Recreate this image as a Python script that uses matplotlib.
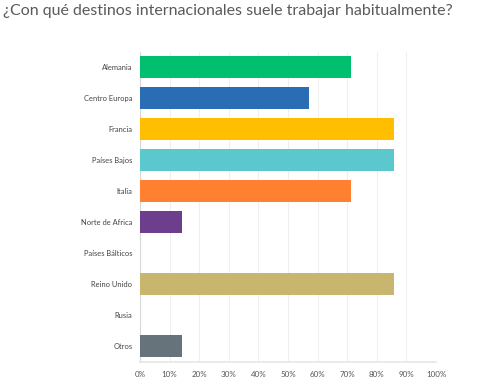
import matplotlib
matplotlib.use("Agg")
import matplotlib.pyplot as plt

categories = ["Alemania", "Centro Europa", "Francia", "Países Bajos", "Italia",
              "Norte de Africa", "Países Bálticos", "Reino Unido", "Rusia", "Otros"]
values = [71.43, 57.14, 85.71, 85.71, 71.43, 14.29, 0, 85.71, 0, 14.29]
colors = ["#00BF6F", "#2A6DB5", "#FFBE00", "#5BC8CE", "#FF8030",
          "#6E3E8E", "#FFFFFF", "#C8B66E", "#FFFFFF", "#66737A"]
xticks = list(range(0, 101, 10))
xticklabels = [f"{t}%" for t in xticks]
title = "¿Con qué destinos internacionales suele trabajar habitualmente?"

plt.rcParams['font.family'] = ['Lato', 'DejaVu Sans']

fig = plt.figure(figsize=(4.8, 3.9), dpi=100)
W, H = 480, 390
left, right, top, bottom = 140, 436, 51.5, 361.5
ax = fig.add_axes([left / W, 1 - bottom / H, (right - left) / W, (bottom - top) / H])

ypos = list(range(len(categories)))
ax.barh(ypos, values, height=0.71, color=colors, zorder=3)
ax.set_ylim(len(categories) - 0.5, -0.5)
ax.set_xlim(0, 100)
ax.set_yticks(ypos)
ax.set_yticklabels(categories, fontsize=5.4, color="#444444")
ax.set_xticks(xticks)
ax.set_xticklabels(xticklabels, fontsize=5.8, color="#555555")
ax.tick_params(axis="both", length=0, pad=5.5)
ax.tick_params(axis="x", pad=7)
ax.grid(axis="x", color="#EFEFEF", linewidth=0.8, zorder=0)
for s in ["top", "right"]:
    ax.spines[s].set_visible(False)
ax.spines["left"].set_color("#D8D8D8")
ax.spines["bottom"].set_color("#E6E6E6")
ax.spines["left"].set_linewidth(0.8)
ax.spines["bottom"].set_linewidth(1.2)

fig.text(3 / W, 1 - 11 / H, title, fontsize=11.5, color="#5a5a5a", va="center", ha="left")

fig.savefig("out.png", dpi=100)
